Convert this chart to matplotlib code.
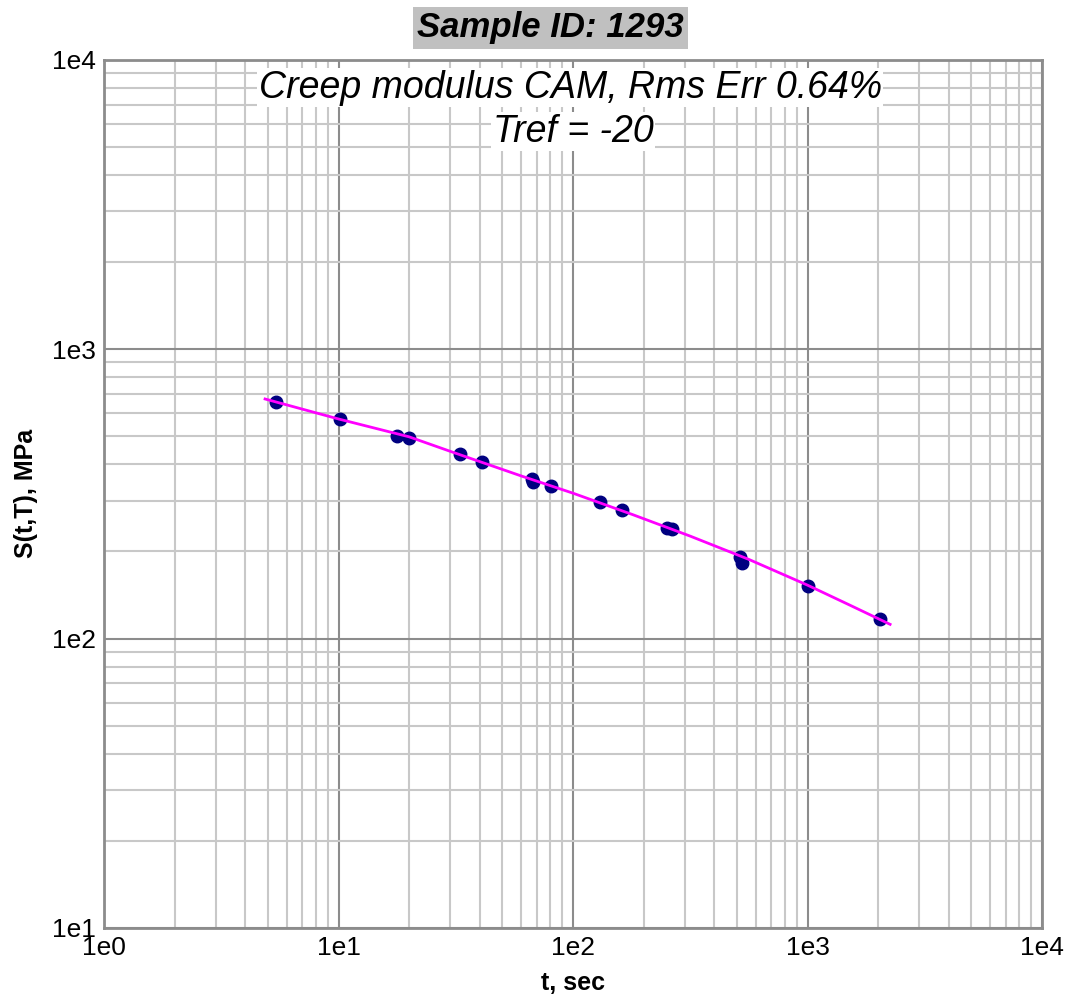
import numpy as np
import matplotlib.pyplot as plt
from matplotlib.ticker import LogLocator, NullFormatter

plt.rcParams["font.family"] = ["Liberation Sans", "DejaVu Sans"]

# measured creep stiffness points (time in s, stiffness in MPa)
t_data = [5.4, 10.1, 17.8, 20.0, 32.8, 40.8, 66.6, 67.5, 80.3,
          130, 162, 252, 265, 515, 524, 1007, 2038]
s_data = [655, 574, 502, 493, 433, 409, 356, 347, 338,
          296, 278, 241, 239, 191, 183, 152, 117]

# CAM model fit curve
t_fit = [4.86, 10, 20, 31.6, 60, 100, 180, 316, 560, 1000, 1500, 2250]
s_fit = [673, 574, 498, 437, 365, 318, 268, 226, 188, 153, 131, 112]

x_ticks = [1e0, 1e1, 1e2, 1e3, 1e4]
x_labels = ["1e0", "1e1", "1e2", "1e3", "1e4"]
y_ticks = [1e1, 1e2, 1e3, 1e4]
y_labels = ["1e1", "1e2", "1e3", "1e4"]

fig = plt.figure(figsize=(10.85, 9.99), dpi=100)
ax = fig.add_axes([0.0959, 0.0711, 0.8645, 0.869])

ax.set_xscale("log")
ax.set_yscale("log")
ax.set_xlim(1, 1e4)
ax.set_ylim(10, 1e4)

# grid
ax.xaxis.set_minor_locator(LogLocator(base=10, subs=np.arange(2, 10)))
ax.yaxis.set_minor_locator(LogLocator(base=10, subs=np.arange(2, 10)))
ax.xaxis.set_minor_formatter(NullFormatter())
ax.yaxis.set_minor_formatter(NullFormatter())
ax.grid(which="minor", color="#c8c8c8", linewidth=1.5, zorder=0)
ax.grid(which="major", color="#8c8c8c", linewidth=1.5, zorder=0)
ax.set_axisbelow(True)

ax.set_xticks(x_ticks)
ax.set_xticklabels(x_labels)
ax.set_yticks(y_ticks)
ax.set_yticklabels(y_labels)
ax.tick_params(which="both", length=0, labelsize=19, pad=6)

for sp in ax.spines.values():
    sp.set_color("#8c8c8c")
    sp.set_linewidth(2)

ax.plot(t_data, s_data, "o", color="#000080", markersize=9, zorder=3)
ax.plot(t_fit, s_fit, "-", color="#ff00ff", linewidth=2, zorder=4)

ax.set_xlabel("t, sec", fontsize=18, fontweight="bold", labelpad=8)
ax.set_ylabel("S(t,T), MPa", fontsize=18, fontweight="bold", labelpad=10)

# annotations inside the plot
ax.text(0.497, 0.968, "Creep modulus CAM, Rms Err 0.64%", transform=ax.transAxes,
        ha="center", va="center", fontsize=27, style="italic",
        bbox=dict(facecolor="white", edgecolor="none", pad=1), zorder=5)
ax.text(0.50, 0.917, "Tref = -20", transform=ax.transAxes,
        ha="center", va="center", fontsize=27, style="italic",
        bbox=dict(facecolor="white", edgecolor="none", pad=1), zorder=5)

fig.text(0.507, 0.972, "Sample ID: 1293", ha="center", va="center",
         fontsize=25, fontweight="bold", style="italic",
         bbox=dict(facecolor="#c0c0c0", edgecolor="none", pad=3))

fig.savefig("out.png", dpi=100)
